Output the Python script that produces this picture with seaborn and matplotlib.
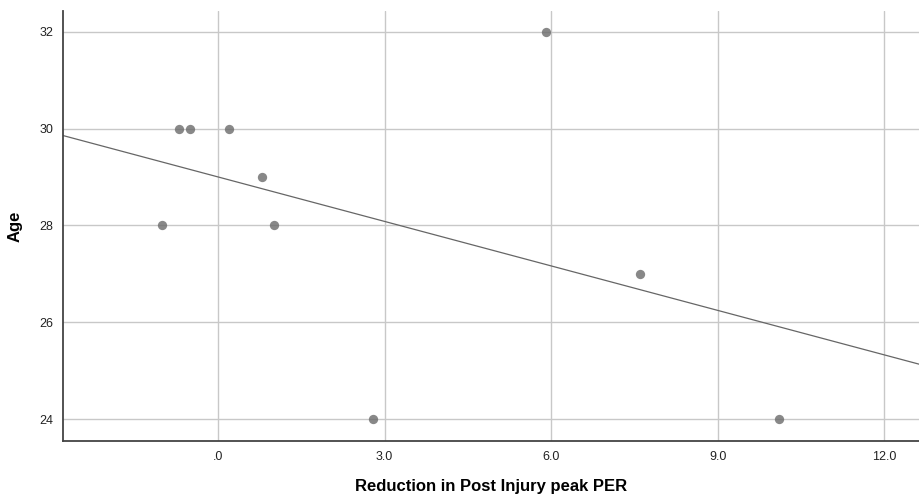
import pandas as pd
import seaborn as sns
import matplotlib.pyplot as plt
from matplotlib.ticker import FuncFormatter

# valores
reduction_per = [-1.0, -0.7, -0.5, 0.2, 0.8, 1.0, 2.8, 5.9, 7.6, 10.1]
age = [28, 30, 30, 30, 29, 28, 24, 32, 27, 24]
x_ticks = [0, 3, 6, 9, 12]
y_ticks = [24, 26, 28, 30, 32]

df = pd.DataFrame({"Reduction in Post Injury peak PER": reduction_per, "Age": age})

sns.set_style("white")
plt.rcParams['font.family'] = ['Liberation Sans', 'DejaVu Sans']

fig = plt.figure(figsize=(9.2, 5.01), dpi=100)
ax = fig.add_axes([0.0685, 0.12, 0.9315, 0.858])
ax.set_xlim(-2.79, 12.64)
ax.set_ylim(23.55, 32.43)

sns.regplot(data=df, x="Reduction in Post Injury peak PER", y="Age", ax=ax,
            ci=None, truncate=False,
            scatter_kws={"color": "#6b6b6b", "s": 45, "linewidths": 0, "zorder": 3},
            line_kws={"color": "#666666", "linewidth": 0.9, "zorder": 2})

ax.set_xticks(x_ticks)
ax.set_yticks(y_ticks)
ax.xaxis.set_major_formatter(FuncFormatter(lambda v, p: ".0" if v == 0 else f"{v:.1f}"))
ax.grid(True, color="#c8c8c8", linewidth=1.0, zorder=0)
ax.set_axisbelow(True)
ax.tick_params(axis="both", length=0, labelsize=9, colors="#222222", pad=7)

for s in ["top", "right"]:
    ax.spines[s].set_visible(False)
for s in ["left", "bottom"]:
    ax.spines[s].set_color("#444444")
    ax.spines[s].set_linewidth(1.3)

ax.set_xlabel("Reduction in Post Injury peak PER", fontsize=12, fontweight="bold",
              labelpad=12, color="black")
ax.set_ylabel("Age", fontsize=12, fontweight="bold", labelpad=12, color="black")

plt.savefig("out.png", dpi=100)
